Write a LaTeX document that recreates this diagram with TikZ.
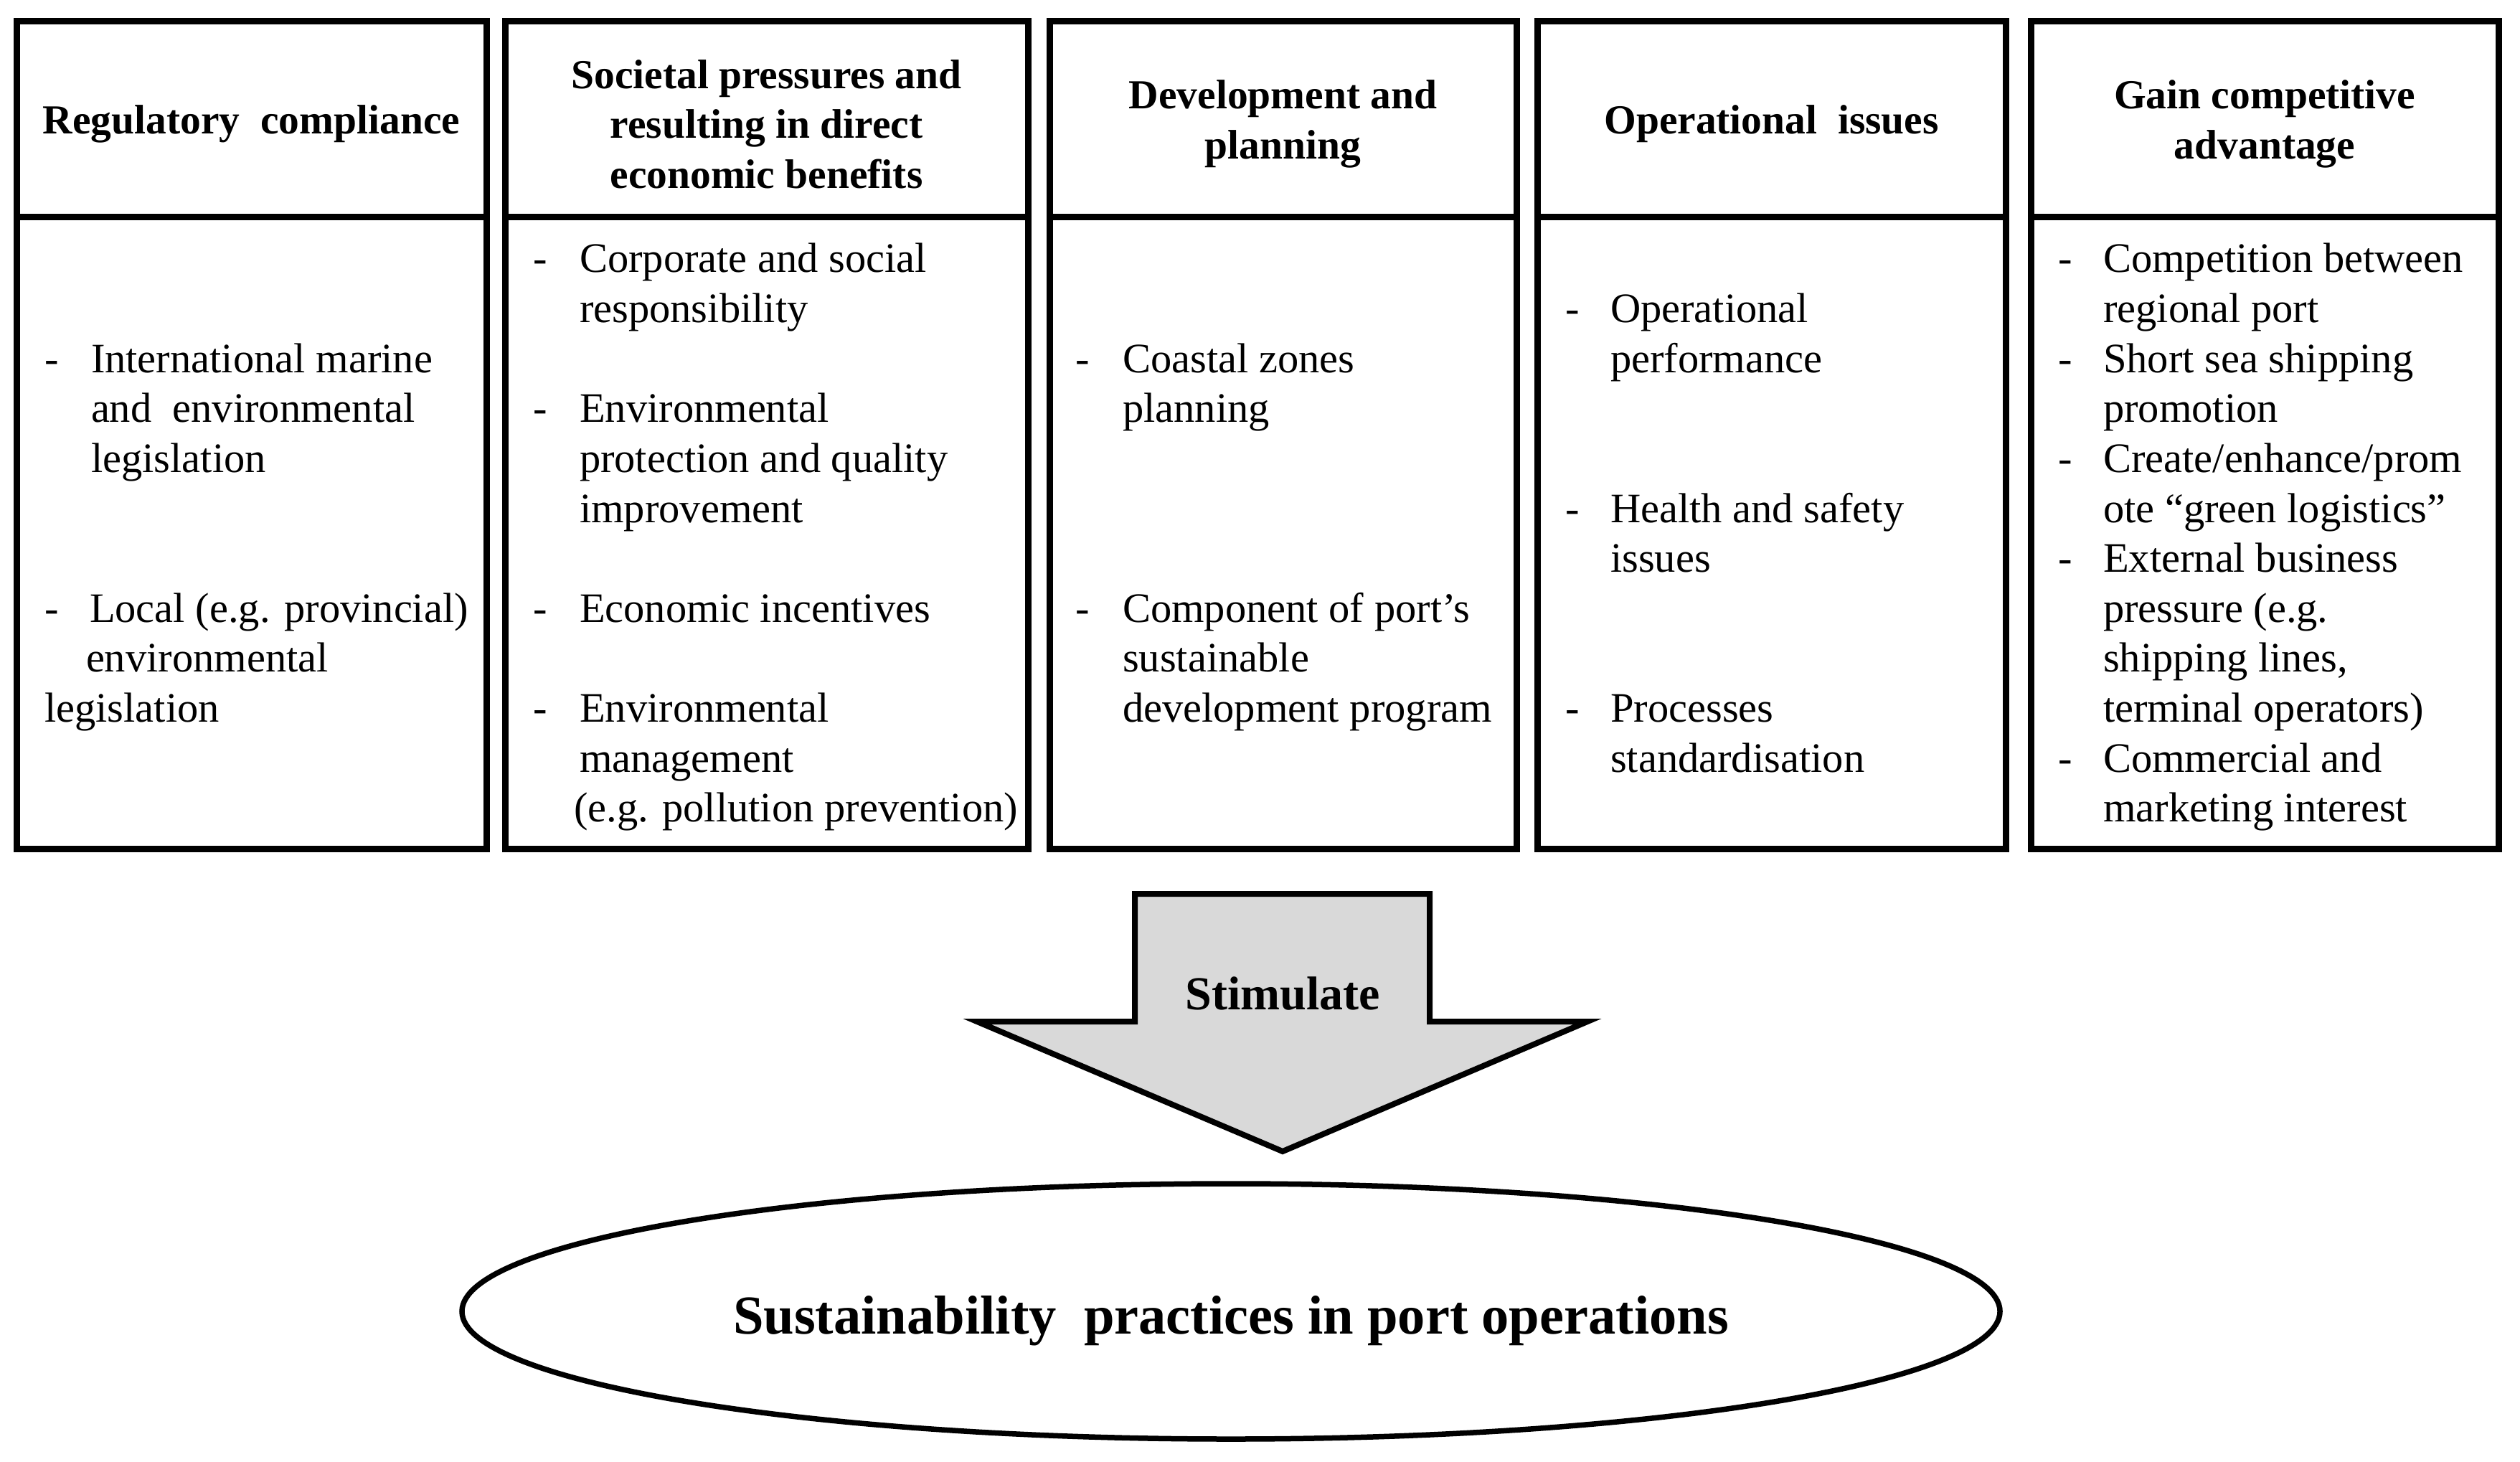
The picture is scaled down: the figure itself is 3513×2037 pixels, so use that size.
\documentclass[tikz,border=0pt]{standalone}
\usepackage{fontspec}
\setmainfont{Liberation Serif}
\usetikzlibrary{shapes.geometric}
\tikzset{
  boxline/.style={line width=1.8pt, line join=miter},
  head/.style={align=center, inner sep=0pt, font=\bfseries\fontsize{11.5}{13.9}\selectfont},
  body/.style={anchor=base west, inner sep=0pt, font=\fontsize{11.7}{13.9}\selectfont},
  bigarrow/.style={line width=1.6pt, fill=black!15, line join=miter},
  goalshape/.style={ellipse, draw, line width=1.5pt, minimum width=428.8pt, minimum height=71.2pt, inner sep=0pt},
  goaltext/.style={inner sep=0pt, font=\bfseries\fontsize{15.3}{18}\selectfont}
}
\newcommand\itm[4]{\node[body] (#1) at (#2,{380+69.6*(#3)}) {#4};}
\begin{document}
\begin{tikzpicture}[x=0.2pt,y=-0.2pt]
\useasboundingbox (0,0) rectangle (3513,2037);
% boxes
\foreach \xa/\xb in {23/678, 704/1433, 1463/2114, 2143/2796, 2831/3483}{
  \draw[boxline] (\xa,30) rectangle (\xb,1183);
  \draw[boxline] (\xa,303) -- (\xb,303);
}
% headers
\node[head] (h1) at (350.5,173) {Regulatory\ \ compliance};
\node[head] (h2) at (1068.5,173) {Societal pressures and\\resulting in direct\\economic benefits};
\node[head] (h3) at (1788.5,173) {Development and\\planning};
\node[head] (h4) at (2469.5,173) {Operational\ \ issues};
\node[head] (h5) at (3157,173) {Gain competitive\\advantage};
% box 1
\itm{a1d}{61}{2}{-}
\itm{a1a}{126}{2}{International marine}
\itm{a1b}{126}{3}{and\ \ environmental}
\itm{a1c}{126}{4}{legislation}
\itm{a2d}{61}{7}{-}
\itm{a2a}{124}{7}{Local (e.g. provincial)}
\itm{a2b}{119}{8}{environmental}
\itm{a2c}{61}{9}{legislation}
% box 2
\itm{b1d}{742}{0}{-}
\itm{b1a}{807}{0}{Corporate and social}
\itm{b1b}{807}{1}{responsibility}
\itm{b2d}{742}{3}{-}
\itm{b2a}{807}{3}{Environmental}
\itm{b2b}{807}{4}{protection and quality}
\itm{b2c}{807}{5}{improvement}
\itm{b3d}{742}{7}{-}
\itm{b3a}{807}{7}{Economic incentives}
\itm{b4d}{742}{9}{-}
\itm{b4a}{807}{9}{Environmental}
\itm{b4b}{807}{10}{management}
\itm{b4c}{799}{11}{(e.g. pollution prevention)}
% box 3
\itm{c1d}{1498}{2}{-}
\itm{c1a}{1564}{2}{Coastal zones}
\itm{c1b}{1564}{3}{planning}
\itm{c2d}{1498}{7}{-}
\itm{c2a}{1564}{7}{Component of port’s}
\itm{c2b}{1564}{8}{sustainable}
\itm{c2c}{1564}{9}{development program}
% box 4
\itm{d1d}{2181}{1}{-}
\itm{d1a}{2244}{1}{Operational}
\itm{d1b}{2244}{2}{performance}
\itm{d2d}{2181}{5}{-}
\itm{d2a}{2244}{5}{Health and safety}
\itm{d2b}{2244}{6}{issues}
\itm{d3d}{2181}{9}{-}
\itm{d3a}{2244}{9}{Processes}
\itm{d3b}{2244}{10}{standardisation}
% box 5
\itm{e1d}{2868}{0}{-}
\itm{e1a}{2931}{0}{Competition between}
\itm{e1b}{2931}{1}{regional port}
\itm{e2d}{2868}{2}{-}
\itm{e2a}{2931}{2}{Short sea shipping}
\itm{e2b}{2931}{3}{promotion}
\itm{e3d}{2868}{4}{-}
\itm{e3a}{2931}{4}{Create/enhance/prom}
\itm{e3b}{2931}{5}{ote “green logistics”}
\itm{e4d}{2868}{6}{-}
\itm{e4a}{2931}{6}{External business}
\itm{e4b}{2931}{7}{pressure (e.g.}
\itm{e4c}{2931}{8}{shipping lines,}
\itm{e4d2}{2931}{9}{terminal operators)}
\itm{e5d}{2868}{10}{-}
\itm{e5a}{2931}{10}{Commercial and}
\itm{e5b}{2931}{11}{marketing interest}
% arrow
\draw[bigarrow] (1582,1246) -- (1993,1246) -- (1993,1424) -- (2213,1424) -- (1788,1605) -- (1362,1424) -- (1582,1424) -- cycle;
\node[inner sep=0pt, font=\bfseries\fontsize{13.2}{15}\selectfont] (stim) at (1788,1385) {Stimulate};
% ellipse
\node[goalshape] (goal) at (1716,1828) {};
\node[goaltext] (goaltxt) at (1716,1841) {Sustainability\ \ practices in port operations};
\end{tikzpicture}
\end{document}
